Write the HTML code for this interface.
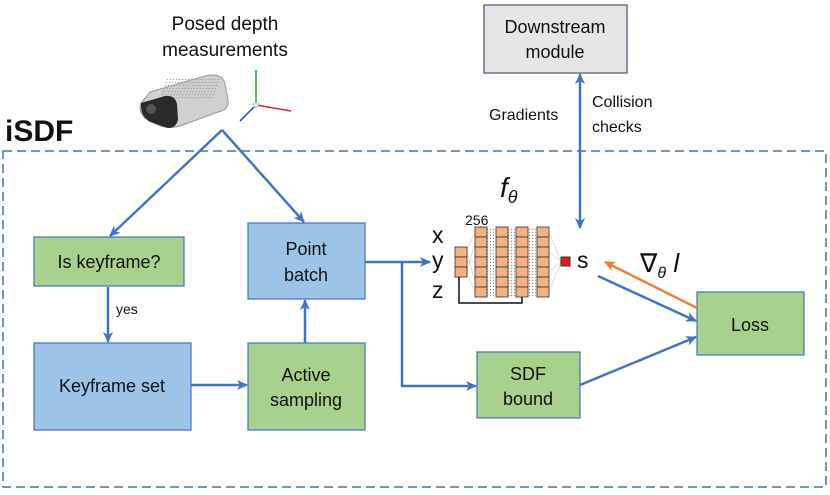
<!DOCTYPE html>
<html><head><style>
body{margin:0;background:#fff;}
svg text{font-family:"Liberation Sans",sans-serif;}
</style></head><body>
<svg width="830" height="490" viewBox="0 0 830 490" xmlns="http://www.w3.org/2000/svg">
<defs>
<marker id="a" markerWidth="11" markerHeight="10" refX="10" refY="5" orient="auto" markerUnits="userSpaceOnUse"><path d="M0,0 L11,5 L0,10 L3,5 z" fill="#4472c4"/></marker>
<marker id="o" markerWidth="11" markerHeight="10" refX="10" refY="5" orient="auto" markerUnits="userSpaceOnUse"><path d="M0,0 L11,5 L0,10 L3,5 z" fill="#ed7d31"/></marker>
<pattern id="dots" width="3" height="3" patternUnits="userSpaceOnUse"><circle cx="1.5" cy="1.5" r="0.7" fill="#999"/></pattern>
</defs>
<rect x="3" y="151" width="823" height="336" fill="none" stroke="#4a6fb0" stroke-width="1.5" stroke-dasharray="9,5"/>
<text x="5" y="141" font-size="30" font-weight="bold" fill="#111">iSDF</text>
<text x="225" y="30" font-size="19" text-anchor="middle" fill="#111">Posed depth</text>
<text x="225" y="56" font-size="19" text-anchor="middle" fill="#111">measurements</text>
<!-- camera -->
<path d="M150,92 L205,76 Q222,72 225,84 L228,100 Q229,110 218,112 L180,126 Q170,129 160,126 L145,118 Q138,112 141,103 Z" fill="#d0d0d0" stroke="#999"/>
<rect x="165" y="78" width="55" height="22" fill="url(#dots)" transform="skewX(-20) translate(30,0)"/>
<path d="M141,103 L165,96 Q175,95 177,104 L178,120 Q176,128 168,128 L150,122 Q140,116 141,103Z" fill="#2a2a2a"/>
<circle cx="151" cy="109" r="5" fill="#555"/>
<line x1="256" y1="105" x2="256" y2="70" stroke="#2aa02a" stroke-width="1.5"/>
<line x1="256" y1="105" x2="291" y2="111" stroke="#d62728" stroke-width="1.5"/>
<line x1="256" y1="105" x2="240" y2="121" stroke="#1f3fd6" stroke-width="1.5"/>
<circle cx="256" cy="105" r="2.5" fill="#eee" stroke="#bbb"/>
<!-- boxes -->
<g stroke="#4472c4" stroke-width="1.2">
<rect x="484" y="5" width="143" height="68" fill="#e6e6e6" stroke="#41546f"/>
<rect x="34" y="237" width="150" height="49" fill="#a9d18e"/>
<rect x="248" y="223" width="117" height="76" fill="#9dc3e6"/>
<rect x="34" y="343" width="157" height="87" fill="#9dc3e6"/>
<rect x="248" y="343" width="117" height="87" fill="#a9d18e"/>
<rect x="477" y="352" width="103" height="66" fill="#a9d18e"/>
<rect x="697" y="292" width="107" height="63" fill="#a9d18e"/>
</g>
<g font-size="18" fill="#111" text-anchor="middle">
<text x="555" y="33">Downstream</text><text x="555" y="58">module</text>
<text x="109" y="268">Is keyframe?</text>
<text x="306" y="255">Point</text><text x="306" y="281">batch</text>
<text x="112" y="392">Keyframe set</text>
<text x="306" y="381">Active</text><text x="306" y="406">sampling</text>
<text x="528" y="380">SDF</text><text x="528" y="405">bound</text>
<text x="750" y="331">Loss</text>
</g>
<g font-size="16" fill="#111">
<text x="489" y="120">Gradients</text>
<text x="592" y="107">Collision</text><text x="592" y="132">checks</text>
<text x="116" y="314" font-size="14">yes</text>
</g>
<!-- arrows -->
<g stroke="#4472c4" stroke-width="2.5" fill="none">
<line x1="222" y1="130" x2="304" y2="222" marker-end="url(#a)"/>
<line x1="222" y1="130" x2="110" y2="236" marker-end="url(#a)"/>
<line x1="108" y1="287" x2="108" y2="342" marker-end="url(#a)"/>
<line x1="191" y1="385" x2="247" y2="385" marker-end="url(#a)"/>
<line x1="305" y1="343" x2="305" y2="300" marker-end="url(#a)"/>
<line x1="365" y1="262" x2="430" y2="262" marker-end="url(#a)"/>
<polyline points="402,262 402,386 476,386" marker-end="url(#a)"/>
<line x1="580" y1="140" x2="580" y2="74" marker-end="url(#a)"/>
<line x1="580" y1="140" x2="580" y2="228" marker-end="url(#a)"/>
<line x1="598" y1="276" x2="696" y2="321" marker-end="url(#a)"/>
<line x1="580" y1="385" x2="696" y2="337" marker-end="url(#a)"/>
</g>
<line x1="697" y1="308" x2="605" y2="262" stroke="#ed7d31" stroke-width="2.5" marker-end="url(#o)"/>
<!-- network -->
<g stroke="#aaa" stroke-width="0.4">
<path d="M467,250 L475,232 M467,274 L475,292 M467,262 L475,262 M467,252 L475,282 M467,272 L475,242 M549,232 L561,262 M549,292 L561,262 M549,252 L561,262 M549,272 L561,262"/>
<rect x="487" y="228" width="9" height="69" fill="url(#dots)" stroke="none"/>
<rect x="508" y="228" width="8" height="69" fill="url(#dots)" stroke="none"/>
<rect x="528" y="228" width="9" height="69" fill="url(#dots)" stroke="none"/>
</g>
<g fill="#f4b183" stroke="#333" stroke-width="0.8">
<rect x="455" y="247" width="12" height="10"/><rect x="455" y="257" width="12" height="10"/><rect x="455" y="267" width="12" height="10"/>
<g id="col"><rect x="475" y="227" width="12" height="10"/><rect x="475" y="237" width="12" height="10"/><rect x="475" y="247" width="12" height="10"/><rect x="475" y="257" width="12" height="10"/><rect x="475" y="267" width="12" height="10"/><rect x="475" y="277" width="12" height="10"/><rect x="475" y="287" width="12" height="10"/></g>
<use href="#col" x="21"/><use href="#col" x="41"/><use href="#col" x="62"/>
</g>
<polyline points="459,277 459,303 522,303 522,297" fill="none" stroke="#111" stroke-width="1.5"/>
<rect x="561" y="257" width="9" height="9" fill="#d62020" stroke="#333"/>
<g font-size="23" fill="#111">
<text x="432" y="243">x</text><text x="432" y="268">y</text><text x="432" y="298">z</text>
<text x="577" y="268">s</text>
</g>
<text x="465" y="225" font-size="14" fill="#111">256</text>
<text x="500" y="197" font-size="28" font-style="italic" font-family="Liberation Serif,serif" fill="#111">f<tspan font-size="18" dy="6">θ</tspan></text>
<text x="640" y="272" font-size="26" font-family="Liberation Serif,serif" fill="#111">∇<tspan font-size="16" font-style="italic" dy="6">θ</tspan><tspan font-style="italic" dy="-6"> l</tspan></text>
</svg>
</body></html>
